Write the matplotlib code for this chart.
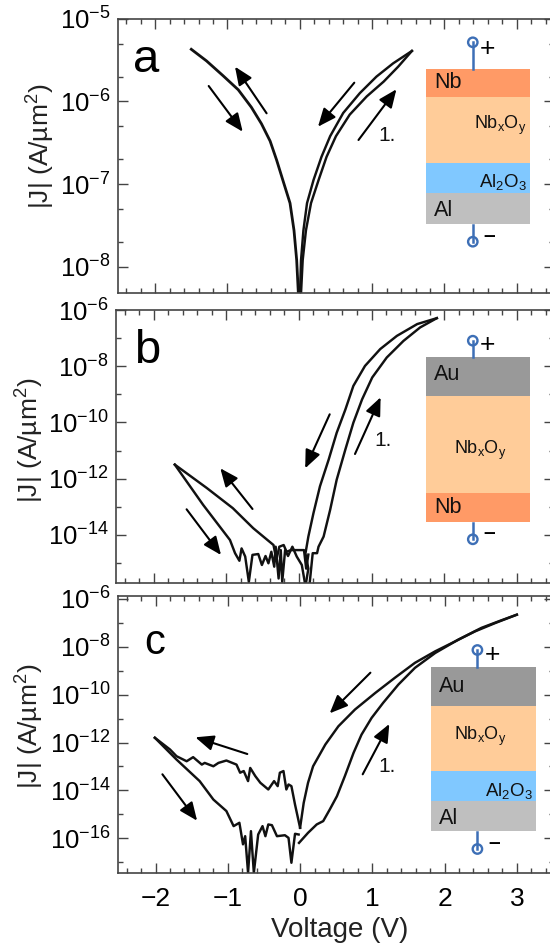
"""I-V hysteresis of three Nb oxide stacks, log |J| against voltage."""

import matplotlib

matplotlib.use("Agg")
import matplotlib.pyplot as plt
import numpy as np
from matplotlib.patches import Circle, FancyArrowPatch, Rectangle

plt.rcParams["font.family"] = ["Liberation Sans", "DejaVu Sans"]
plt.rcParams["mathtext.fontset"] = "custom"
plt.rcParams["mathtext.rm"] = "Liberation Sans"
plt.rcParams["mathtext.default"] = "regular"

WIDTH, HEIGHT = 550, 947
INK = "#111111"
AXIS = "#444444"
WIRE = "#3d6fb6"
NB = "#ff9a66"
OXIDE = "#ffcc99"
ALOX = "#80c8ff"
AL = "#bfbfbf"
AU = "#999999"

# panel a: voltage (V), log10 |J|
a_neg_v = [-1.50, -1.29, -1.06, -0.85, -0.67, -0.53, -0.41, -0.32, -0.235, -0.135, -0.08, -0.043, -0.02]
a_neg_j = [-5.37, -5.51, -5.69, -5.86, -6.07, -6.27, -6.48, -6.71, -6.95, -7.23, -7.56, -7.92, -8.32]
a_up_v = [0.017, 0.04, 0.085, 0.155, 0.26, 0.37, 0.50, 0.69, 0.925, 1.16, 1.36, 1.55]
a_up_j = [-8.32, -7.92, -7.56, -7.23, -6.95, -6.67, -6.42, -6.16, -5.94, -5.76, -5.58, -5.39]
a_down_v = [1.55, 1.29, 1.06, 0.83, 0.60, 0.42, 0.30, 0.19, 0.10, 0.05, 0.017, 0.003]
a_down_j = [-5.39, -5.54, -5.70, -5.90, -6.14, -6.42, -6.67, -6.95, -7.23, -7.56, -7.92, -8.32]

# panel b
b_up_v = [0.15, 0.19, 0.25, 0.27, 0.34, 0.43, 0.52, 0.64, 0.75, 0.87, 1.01, 1.21, 1.44, 1.67, 1.90]
b_up_j = [-15.67, -14.65, -14.65, -14.42, -14.06, -13.11, -12.04, -10.96, -10.01, -9.18, -8.40, -7.69, -7.10, -6.62, -6.29]
b_down_v = [1.90, 1.63, 1.35, 1.12, 0.91, 0.75, 0.64, 0.52, 0.41, 0.29, 0.20, 0.13, 0.09, 0.13, 0.10]
b_down_j = [-6.29, -6.50, -6.92, -7.39, -7.99, -8.70, -9.54, -10.37, -11.32, -12.27, -13.23, -14.06, -14.66, -15.20, -15.67]
b_low_v = [-1.71, -1.32, -0.95, -0.88, -0.82, -0.79, -0.74, -0.69, -0.64, -0.56, -0.51, -0.46,
           -0.42, -0.38, -0.34, -0.32, -0.28, -0.25, -0.23, -0.19, -0.15, -0.09, -0.03, 0.04, 0.08]
b_low_j = [-11.50, -12.93, -14.18, -14.65, -14.92, -14.48, -14.77, -15.67, -14.71, -14.68, -15.07, -14.75,
           -15.01, -14.60, -15.13, -14.42, -15.55, -14.54, -15.67, -14.54, -14.75, -14.42, -14.77, -15.07, -15.67]
b_high_v = [-1.71, -1.27, -0.91, -0.63, -0.35, -0.31, -0.27, -0.21, -0.17, -0.11, 0.07, 0.10, 0.13]
b_high_j = [-11.50, -12.33, -13.05, -13.76, -14.36, -14.89, -14.42, -14.36, -14.60, -14.54, -14.54, -15.20, -14.70]

# panel c
c_up_v = [-0.015, 0.11, 0.23, 0.32, 0.41, 0.51, 0.62, 0.74, 0.85, 0.99, 1.15, 1.36, 1.59, 1.87, 2.19, 2.51, 2.79, 3.00]
c_up_j = [-16.19, -15.77, -15.42, -15.28, -14.80, -14.24, -13.40, -12.43, -11.67, -10.97, -10.34, -9.58, -8.88, -8.26,
          -7.70, -7.21, -6.89, -6.66]
c_down_v = [3.00, 2.70, 2.42, 2.15, 1.87, 1.59, 1.31, 1.04, 0.76, 0.53, 0.35, 0.18, 0.11, 0.05, 0.00]
c_down_j = [-6.66, -7.01, -7.36, -7.77, -8.19, -8.67, -9.30, -9.93, -10.62, -11.32, -12.08, -12.99, -13.68, -14.52, -15.56]
c_high_v = [0.00, -0.07, -0.12, -0.16, -0.19, -0.23, -0.28, -0.31, -0.36, -0.44, -0.55, -0.62, -0.69,
            -0.72, -0.78, -0.83, -0.88, -1.02, -1.13, -1.20, -1.32, -1.36, -1.48, -1.57, -1.71, -1.80, -2.01]
c_high_j = [-15.56, -14.59, -13.82, -13.75, -13.96, -13.19, -13.26, -13.82, -13.61, -13.96, -13.68, -13.40, -13.06,
            -13.61, -13.19, -13.26, -12.92, -12.75, -12.85, -12.99, -12.85, -12.92, -12.61, -12.78, -12.57, -12.29, -11.80]
c_low_v = [-2.01, -1.71, -1.39, -1.20, -1.02, -0.92, -0.84, -0.79, -0.76, -0.72, -0.68, -0.64, -0.58,
           -0.52, -0.48, -0.44, -0.39, -0.32, -0.21, -0.16, -0.12, -0.07, -0.02]
c_low_j = [-11.80, -12.71, -13.61, -14.38, -14.86, -15.49, -15.35, -16.25, -15.91, -17.44, -15.70, -17.44, -15.84,
           -15.49, -15.91, -15.42, -15.45, -15.91, -15.87, -15.98, -17.02, -15.81, -15.84]

x_majors = [-2, -1, 0, 1, 2, 3]
x_labels = ["\u22122", "\u22121", "0", "1", "2", "3"]
a_majors = [-8, -7, -6, -5]
bc_majors = [-14, -12, -10, -8, -6]


def px_x(x):
    return x / WIDTH


def px_y(y):
    return 1 - y / HEIGHT


def make_axes(fig, left, top, bottom, ylim, majors, minors):
    ax = fig.add_axes([px_x(left), px_y(bottom), (553.7 - left) / WIDTH, (bottom - top) / HEIGHT])
    ax.set_yscale("log")
    ax.set_xlim(-2.52, 3.51)
    ax.set_ylim(10.0 ** ylim[0], 10.0 ** ylim[1])
    ax.set_xticks(x_majors, [])
    ax.set_xticks(np.arange(-2.4, 3.5, 0.2), minor=True)
    ax.set_yticks([10.0 ** m for m in majors], [f"$10^{{{m}}}$".replace("-", "\u2212") for m in majors])
    ax.set_yticks(minors, [], minor=True)
    ax.tick_params(which="both", direction="in", top=True, right=True, color=AXIS, width=1.0)
    ax.tick_params(which="major", length=7.2, labelsize=18.5, pad=5)
    ax.tick_params(which="minor", length=3.6)
    for spine in ax.spines.values():
        spine.set_color(AXIS)
        spine.set_linewidth(1.2)
    return ax


def trace(ax, volts, log_j, lw=1.75):
    ax.plot(volts, 10.0 ** np.asarray(log_j), color=INK, lw=lw, solid_joinstyle="round")


def arrow(fig, tail, head):
    fig.add_artist(FancyArrowPatch(
        (px_x(tail[0]), px_y(tail[1])), (px_x(head[0]), px_y(head[1])),
        transform=fig.transFigure, arrowstyle="-|>,head_length=11,head_width=4.7",
        mutation_scale=1.0, lw=1.5, color="black", shrinkA=0, shrinkB=0,
    ))


def stack(fig, left, right, layers, wire_x, wire_top, wire_bottom, plus, minus):
    top, bottom = layers[0][0], layers[-1][1]
    fig.add_artist(plt.Line2D([px_x(wire_x)] * 2, [px_y(wire_top), px_y(top)], color=WIRE, lw=1.8))
    fig.add_artist(plt.Line2D([px_x(wire_x)] * 2, [px_y(bottom + 1), px_y(wire_bottom)], color=WIRE, lw=1.8))
    for y1, y2, color in layers:
        fig.add_artist(Rectangle((px_x(left), px_y(y2)), (right - left) / WIDTH, (y2 - y1) / HEIGHT,
                                 transform=fig.transFigure, fc=color, ec="none"))
    for y in (wire_top, wire_bottom):
        # circles in pixels so they stay round
        fig.add_artist(Circle((wire_x, HEIGHT - y), 4.7, transform=None, fc="white", ec=WIRE, lw=1.7))
    fig.text(px_x(plus[0]), px_y(plus[1]), "+", fontsize=19, ha="center", va="center", color="black")
    fig.text(px_x(minus[0]), px_y(minus[1]), "\u2013", fontsize=15, fontweight="bold", ha="center", va="center")


def label(fig, x, y, text, size=15.5, ha="left", **kwargs):
    fig.text(px_x(x), px_y(y), text, fontsize=size, ha=ha, va="center", color="#111111", **kwargs)


fig = plt.figure(figsize=(WIDTH / 100, HEIGHT / 100), dpi=100)

a_minors = [m * 10.0 ** e for e in (-8, -7, -6) for m in (2, 5)]
ax_a = make_axes(fig, 117.5, 18.7, 293.3, (-8.32, -5), a_majors, a_minors)
ax_b = make_axes(fig, 116, 310, 582.7, (-15.7, -6), bc_majors, [10.0 ** e for e in (-15, -13, -11, -9, -7)])
ax_c = make_axes(fig, 118, 596, 873.3, (-17.46, -5.88), [-16, -14, -12, -10, -8, -6],
                 [10.0 ** e for e in (-17, -15, -13, -11, -9, -7)])
ax_c.set_xticklabels(x_labels)
ax_c.tick_params(axis="x", labelsize=19, pad=10)

trace(ax_a, a_neg_v, a_neg_j, lw=2.0)
trace(ax_a, a_up_v, a_up_j)
trace(ax_a, a_down_v, a_down_j)
trace(ax_b, b_up_v, b_up_j)
trace(ax_b, b_down_v, b_down_j)
trace(ax_b, b_low_v, b_low_j)
trace(ax_b, b_high_v, b_high_j)
trace(ax_c, c_up_v, c_up_j)
trace(ax_c, c_down_v, c_down_j)
trace(ax_c, c_high_v, c_high_j)
trace(ax_c, c_low_v, c_low_j)

for tail, head in [((266.6, 113.3), (235, 66.7)), ((208.7, 86), (242.7, 131.7)),
                   ((354.3, 82.7), (318, 126.7)), ((358.5, 140), (396.4, 89.3)),
                   ((252.5, 509), (220.3, 468.3)), ((186.6, 509.3), (221, 555)),
                   ((329.7, 414.3), (305.2, 468.3)), ((355, 454), (380.6, 397.3)),
                   ((247.3, 754), (195.4, 737.3)), ((162.4, 774.3), (197.1, 820.7)),
                   ((370.4, 672.7), (329.7, 713.3)), ((362.7, 774.3), (389.3, 724))]:
    arrow(fig, tail, head)

stack(fig, 425.5, 530.3, [(69, 97, NB), (97, 162.7, OXIDE), (162.7, 193.3, ALOX), (193.3, 224, AL)],
      472.8, 42.3, 241.7, (487.5, 48.5), (489, 235))
stack(fig, 425.5, 530.3, [(357.3, 396, AU), (396, 492.7, OXIDE), (492.7, 521.7, NB)],
      472.8, 340.7, 539.3, (487.5, 345), (489, 532.3))
stack(fig, 430.7, 535.6, [(666.7, 705.7, AU), (705.7, 770.7, OXIDE), (770.7, 800.7, ALOX), (800.7, 831, AL)],
      477.4, 650, 849, (492.8, 655), (494.6, 842.3))

oxide = "$Nb_xO_y$"
alumina = "$Al_2O_3$"
label(fig, 434, 82.7, "Nb")
label(fig, 500, 125, oxide, 13, "center")
label(fig, 503, 181.7, alumina, 13.4, "center")
label(fig, 434, 210.7, "Al")
label(fig, 434, 375, "Au")
label(fig, 480, 450, oxide, 13, "center")
label(fig, 434, 507.3, "Nb")
label(fig, 439, 686, "Au")
label(fig, 480, 736, oxide, 13, "center")
label(fig, 508.6, 791, alumina, 13.4, "center")
label(fig, 439, 818.3, "Al")
label(fig, 378.8, 135, "1.", 15)
label(fig, 374.6, 440, "1.", 15)
label(fig, 378, 766.7, "1.", 15)

fig.text(px_x(133), px_y(71.7), "a", fontsize=34, va="baseline", color="black")
fig.text(px_x(134), px_y(363), "b", fontsize=34, va="baseline", color="black")
fig.text(px_x(144), px_y(654), "c", fontsize=30, va="baseline", color="black")

ylabel = "|J| (A/\u00b5m$^2$)"
for x, y in [(41, 146), (30, 440), (30, 726.7)]:
    fig.text(px_x(x), px_y(y), ylabel, fontsize=19, rotation=90, ha="center", va="center", color="#222222")
fig.text(px_x(340), px_y(930), "Voltage (V)", fontsize=20, ha="center", va="center", color="#222222")

fig.savefig("out.png", dpi=100)
